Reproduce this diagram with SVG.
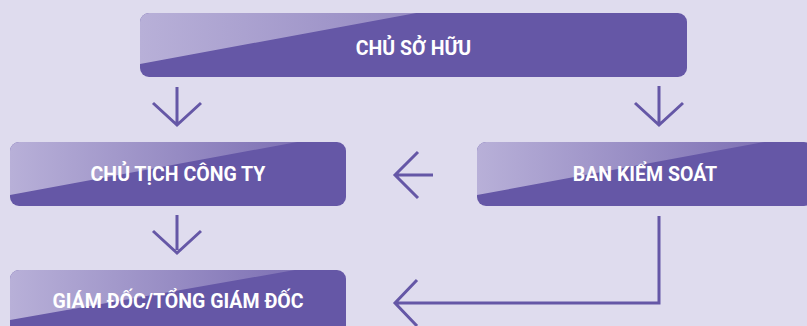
<svg xmlns="http://www.w3.org/2000/svg" width="807" height="326" viewBox="0 0 807 326">
<style>
.bg{fill:#dfdcee}
.box{fill:#6557a6}
.lbl{font-family:Roboto,"Liberation Sans",sans-serif;font-weight:bold;font-size:19.5px;fill:#ffffff;text-anchor:middle}
.con{fill:none;stroke:#6557a6;stroke-width:3;stroke-linecap:butt;stroke-linejoin:miter}
</style>
<defs>
<linearGradient id="g1" x1="0" y1="0" x2="1" y2="0">
<stop offset="0" stop-color="#b8b0d8"/>
<stop offset="1" stop-color="#7466ae"/>
</linearGradient>
<clipPath id="c1"><rect x="140" y="13" width="547" height="64" rx="9"/></clipPath>
<clipPath id="c2"><rect x="10" y="142" width="336" height="64" rx="9"/></clipPath>
<clipPath id="c3"><rect x="477" y="142" width="336" height="64" rx="9"/></clipPath>
<clipPath id="c4"><rect x="10" y="270" width="336" height="64" rx="9"/></clipPath>
</defs>
<rect class="bg" x="0" y="0" width="807" height="326"/>
<g id="n1">
<rect class="box" x="140" y="13" width="547" height="64" rx="9"/>
<polygon clip-path="url(#c1)" points="140,13 687,13 687,-37 140,64" fill="url(#g1)"/>
<text class="lbl" x="413.5" y="54.5">CHỦ SỞ HỮU</text>
</g>
<g id="n2">
<rect class="box" x="10" y="142" width="336" height="64" rx="9"/>
<polygon clip-path="url(#c2)" points="10,142 346,142 346,133 10,195" fill="url(#g1)"/>
<text class="lbl" x="178" y="180.5">CHỦ TỊCH CÔNG TY</text>
</g>
<g id="n3">
<rect class="box" x="477" y="142" width="336" height="64" rx="9"/>
<polygon clip-path="url(#c3)" points="477,142 813,142 813,133 477,195" fill="url(#g1)"/>
<text class="lbl" x="645" y="181">BAN KIỂM SOÁT</text>
</g>
<g id="n4">
<rect class="box" x="10" y="270" width="336" height="64" rx="9"/>
<polygon clip-path="url(#c4)" points="10,270 346,270 346,261 10,320" fill="url(#g1)"/>
<text class="lbl" x="178" y="307.5">GIÁM ĐỐC/TỔNG GIÁM ĐỐC</text>
</g>
<g id="connectors">
<path class="con" d="M177,87 V124 M153,103 L177,125 L201,103"/>
<path class="con" d="M659,86 V124 M635,103 L659,125 L683,103"/>
<path class="con" d="M433,175 H395 M418,152 L395,175 L418,198"/>
<path class="con" d="M659,216 V303 H396 M417,280 L395,303 L417,326"/>
<path class="con" d="M177,215 V250 M153,231 L177,253 L201,231"/>
</g>
</svg>
